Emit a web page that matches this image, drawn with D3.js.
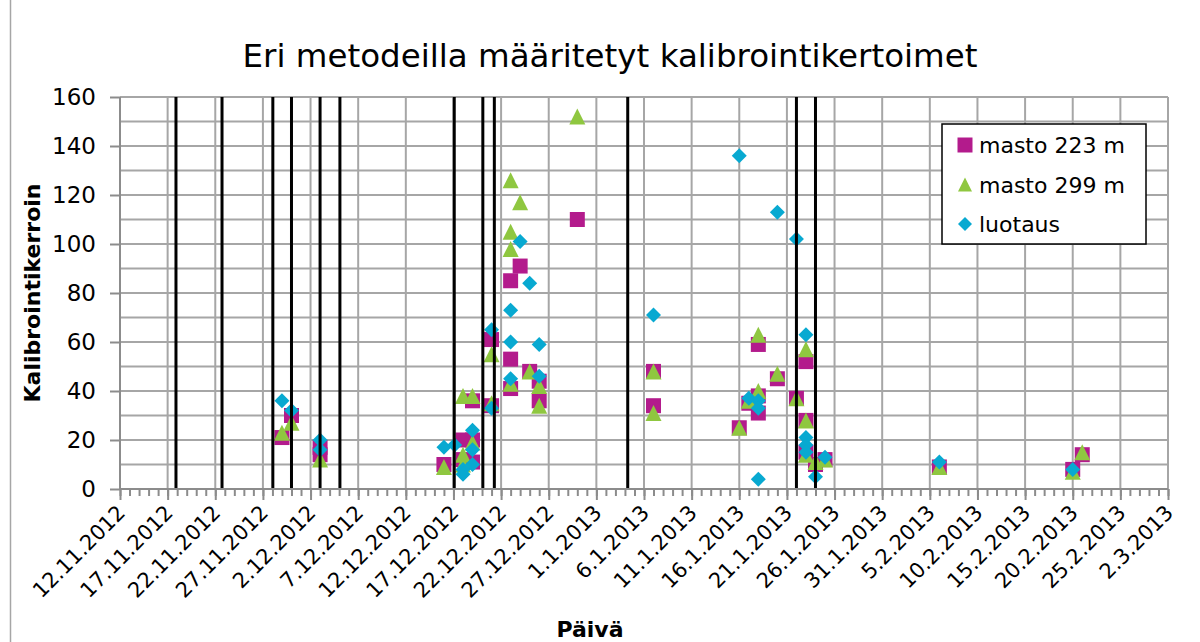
<!DOCTYPE html>
<html>
<head>
<meta charset="utf-8">
<script src="https://cdn.jsdelivr.net/npm/d3@7"></script>
<style>
body { margin: 0; background: #fff; }
text { font-family: "DejaVu Sans", Verdana, sans-serif; fill: #000; }
</style>
</head>
<body>
<svg id="kaavio" width="1200" height="642"></svg>
<script>
// mittaukset: paivamaara ja kalibrointikerroin
var masto223Paivat = ["29.11.2012","30.11.2012","3.12.2012","3.12.2012","16.12.2012","18.12.2012","18.12.2012",
  "19.12.2012","19.12.2012","19.12.2012","21.12.2012","21.12.2012","23.12.2012","23.12.2012","23.12.2012",
  "24.12.2012","25.12.2012","26.12.2012","26.12.2012","30.12.2012","7.1.2013","7.1.2013","16.1.2013","17.1.2013",
  "18.1.2013","18.1.2013","18.1.2013","20.1.2013","22.1.2013","23.1.2013","23.1.2013","23.1.2013","24.1.2013",
  "25.1.2013","6.2.2013","20.2.2013","21.2.2013"];
var masto223Arvot = [21,30,17,14,10,20,12, 36,20,11,61,34,85,53,41, 91,48,44,36,110,48,34,25,35,
  59,38,31,45,37,52,28,15,10, 12,9,8,14];

var masto299Paivat = ["29.11.2012","30.11.2012","3.12.2012","16.12.2012","18.12.2012","18.12.2012","18.12.2012",
  "19.12.2012","19.12.2012","21.12.2012","21.12.2012","23.12.2012","23.12.2012","23.12.2012","23.12.2012",
  "24.12.2012","25.12.2012","26.12.2012","26.12.2012","30.12.2012","7.1.2013","7.1.2013","16.1.2013","17.1.2013",
  "18.1.2013","18.1.2013","20.1.2013","22.1.2013","23.1.2013","23.1.2013","23.1.2013","24.1.2013","25.1.2013",
  "6.2.2013","20.2.2013","21.2.2013"];
var masto299Arvot = [23,27,12,9,38,14,10, 38,19,55,35,126,105,98,43, 117,48,42,34,152,48,31,25,36,
  63,40,47,37,57,28,14,11,12, 9,7,15];

var luotausPaivat = ["29.11.2012","30.11.2012","3.12.2012","3.12.2012","16.12.2012","17.12.2012 03","18.12.2012","18.12.2012",
  "19.12.2012","19.12.2012","19.12.2012","21.12.2012","21.12.2012","23.12.2012","23.12.2012","23.12.2012",
  "24.12.2012","25.12.2012","26.12.2012","26.12.2012","7.1.2013","16.1.2013","17.1.2013","18.1.2013","18.1.2013",
  "18.1.2013","20.1.2013","22.1.2013","23.1.2013","23.1.2013","23.1.2013","23.1.2013","24.1.2013","25.1.2013",
  "6.2.2013","20.2.2013"];
var luotausArvot = [36,32,20,16,17,18,8,6, 24,16,10,65,33,73,60,45, 101,84,59,46,71,136,37,36,33,
  4,113,102,63,21,18,15,5,13, 11,8];

// mustat pystyviivat (tapahtumat)
var tapahtumat = ["17.11.2012 21","22.11.2012 17","28.11.2012 01","30.11.2012 00","3.12.2012 00","5.12.2012 02",
  "17.12.2012 02","20.12.2012 02","21.12.2012 07","4.1.2013 07","22.1.2013 00","24.1.2013 00"];

var alkuPaiva = "12.11.2012", loppuPaiva = "2.3.2013";
var yTikit = [0,20,40,60,80,100,120,140,160];
var sarjaNimet = ["masto 223 m", "masto 299 m", "luotaus"];
var sarjaVarit = ["#b31b8c", "#8fc740", "#08a9d1"];

var parsePaiva = d3.utcParse("%d.%m.%Y");
var parseTunti = d3.utcParse("%d.%m.%Y %H");
function lue(s){ return parseTunti(s) || parsePaiva(s); }
var muoto = d3.utcFormat("%-d.%-m.%Y");

var svg = d3.select("#kaavio");
var vasen = 120, oikea = 1168, yla = 97, ala = 489;

var alku = lue(alkuPaiva), loppu = lue(loppuPaiva);
var x = d3.scaleUtc().domain([alku, loppu]).range([vasen, oikea]);
var y = d3.scaleLinear().domain([0, 160]).range([ala, yla]);

var paivat = d3.utcDay.range(alku, d3.utcDay.offset(loppu, 1));
var paaTikit = paivat.filter(function(d, i){ return i % 5 === 0; });

// kehys vasemmalla
svg.append("line").attr("x1", 10.5).attr("x2", 10.5).attr("y1", 0).attr("y2", 642)
  .attr("stroke", "#a6a6a6").attr("stroke-width", 1.5);

// otsikko
svg.append("text").attr("x", 610).attr("y", 67).attr("text-anchor", "middle")
  .style("font-size", "32.5px").text("Eri metodeilla määritetyt kalibrointikertoimet");

// ruudukko
var grid = svg.append("g").attr("stroke", "#a6a6a6").attr("stroke-width", 2);
grid.selectAll(".hgrid").data(d3.range(10, 161, 10)).enter().append("line")
  .attr("x1", vasen).attr("x2", oikea)
  .attr("y1", function(d){ return y(d); }).attr("y2", function(d){ return y(d); });
grid.selectAll(".vgrid").data(paaTikit.slice(1)).enter().append("line")
  .attr("y1", yla).attr("y2", ala)
  .attr("x1", function(d){ return x(d); }).attr("x2", function(d){ return x(d); });

// akselit
var xPieni = svg.append("g").attr("transform", "translate(0," + ala + ")")
  .call(d3.axisBottom(x).tickValues(paivat).tickSize(7).tickFormat(""));
var xAks = svg.append("g").attr("transform", "translate(0," + ala + ")")
  .call(d3.axisBottom(x).tickValues(paaTikit).tickSize(11).tickFormat(muoto));
xAks.selectAll("text")
  .style("font-size", "21px")
  .attr("text-anchor", "end")
  .attr("dy", "0")
  .attr("y", 0)
  .attr("transform", "translate(6,25) rotate(-45)");

var yAks = svg.append("g").attr("transform", "translate(" + vasen + ",0)")
  .call(d3.axisLeft(y).tickValues(yTikit).tickSize(10).tickPadding(14));
yAks.selectAll("text").style("font-size", "23px");

svg.selectAll(".domain, .tick line").attr("stroke", "#8c8c8c").attr("stroke-width", 2);
svg.selectAll(".domain").each(function(){
  d3.select(this).attr("d", d3.select(this.parentNode).attr("transform").indexOf("0," + ala) > 0
    ? "M" + vasen + ",0H" + oikea : "M0," + ala + "V" + yla);
});

// akseliotsikot
svg.append("text").attr("transform", "translate(40,293) rotate(-90)")
  .attr("text-anchor", "middle").style("font-size", "22px").style("font-weight", "bold")
  .text("Kalibrointikerroin");
svg.append("text").attr("x", 590).attr("y", 637).attr("text-anchor", "middle")
  .style("font-size", "22px").style("font-weight", "bold").text("Päivä");

// merkkien muodot
var nelio = { draw: function(c, w){ var h = w / 2; c.moveTo(-h,-h); c.lineTo(h,-h); c.lineTo(h,h); c.lineTo(-h,h); c.closePath(); } };
var kolmio = { draw: function(c, w){ var h = w / 2; c.moveTo(0,-h); c.lineTo(h,h); c.lineTo(-h,h); c.closePath(); } };
var vinonelio = { draw: function(c, w){ var h = w / 2; c.moveTo(0,-h); c.lineTo(h,0); c.lineTo(0,h); c.lineTo(-h,0); c.closePath(); } };
var muodot = [nelio, kolmio, vinonelio];
var koot = [15, 16, 15];

var sarjat = [
  d3.zip(masto223Paivat, masto223Arvot),
  d3.zip(masto299Paivat, masto299Arvot),
  d3.zip(luotausPaivat, luotausArvot)
];

sarjat.forEach(function(sarja, i){
  svg.append("g").selectAll("path").data(sarja).enter().append("path")
    .attr("d", d3.symbol().type(muodot[i]).size(koot[i]))
    .attr("fill", sarjaVarit[i])
    .attr("transform", function(d){ return "translate(" + x(lue(d[0])) + "," + y(d[1]) + ")"; });
});

// tapahtumaviivat paalle
svg.append("g").selectAll("line").data(tapahtumat).enter().append("line")
  .attr("x1", function(d){ return x(lue(d)); }).attr("x2", function(d){ return x(lue(d)); })
  .attr("y1", yla).attr("y2", ala - 1)
  .attr("stroke", "#000").attr("stroke-width", 3);

// selite
var selite = svg.append("g").attr("transform", "translate(942,124)");
selite.append("rect").attr("width", 204).attr("height", 120)
  .attr("fill", "#fff").attr("stroke", "#000").attr("stroke-width", 1.5);
sarjaNimet.forEach(function(n, i){
  var rivi = selite.append("g").attr("transform", "translate(0," + (21 + i * 39.5) + ")");
  rivi.append("path").attr("d", d3.symbol().type(muodot[i]).size(i === 0 ? 15 : 14))
    .attr("fill", sarjaVarit[i]).attr("transform", "translate(23,0)");
  rivi.append("text").attr("x", 37).attr("y", 8).style("font-size", "22px").text(n);
});
</script>
</body>
</html>
